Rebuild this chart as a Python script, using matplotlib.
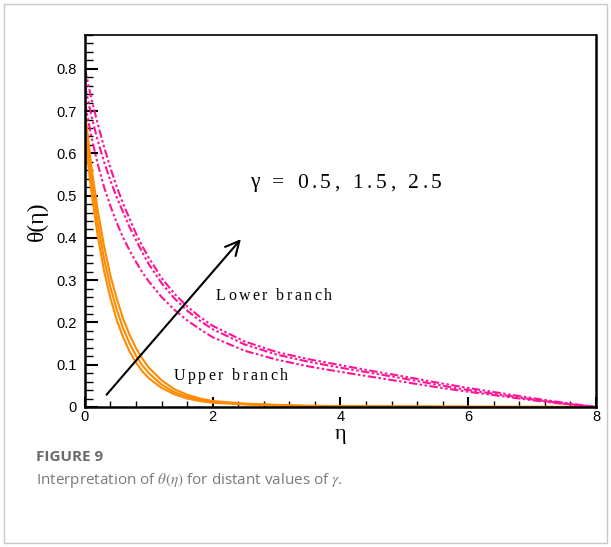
import matplotlib
matplotlib.use("Agg")
import matplotlib.pyplot as plt
from matplotlib.ticker import MultipleLocator, FuncFormatter
from matplotlib.patches import Rectangle

plt.rcParams["mathtext.fontset"] = "stix"

# similarity variable
eta = [0, 0.1, 0.2, 0.3, 0.4, 0.5, 0.6, 0.7, 0.8, 0.9, 1.0, 1.2, 1.4, 1.6,
       1.8, 2.0, 2.5, 3.0, 3.5, 4.0, 4.5, 5.0, 5.5, 6.0, 6.5, 7.0, 7.5, 8.0]

# upper branch temperature profiles, gamma = 0.5, 1.5, 2.5
upper_g05 = [0.70, 0.57, 0.465, 0.38, 0.31, 0.255, 0.208, 0.170, 0.139, 0.114,
             0.093, 0.063, 0.042, 0.029, 0.020, 0.014, 0.008, 0.005, 0.003,
             0.002, 0.0015, 0.001, 0.0008, 0.0005, 0.0003, 0.0002, 0.0001, 0.0]
upper_g15 = [0.67, 0.54, 0.435, 0.35, 0.283, 0.229, 0.185, 0.150, 0.121, 0.098,
             0.080, 0.053, 0.035, 0.024, 0.017, 0.012, 0.007, 0.004, 0.002,
             0.0015, 0.001, 0.0008, 0.0006, 0.0004, 0.0003, 0.0002, 0.0001, 0.0]
upper_g25 = [0.64, 0.51, 0.405, 0.322, 0.257, 0.205, 0.164, 0.131, 0.105, 0.084,
             0.068, 0.045, 0.030, 0.020, 0.014, 0.010, 0.006, 0.003, 0.002,
             0.001, 0.0008, 0.0006, 0.0004, 0.0003, 0.0002, 0.0001, 0.0, 0.0]

# lower branch temperature profiles, gamma = 0.5, 1.5, 2.5
lower_g05 = [0.80, 0.73, 0.67, 0.615, 0.565, 0.52, 0.48, 0.445, 0.41, 0.38,
             0.353, 0.305, 0.268, 0.238, 0.213, 0.192, 0.155, 0.130, 0.113,
             0.099, 0.085, 0.072, 0.058, 0.045, 0.033, 0.021, 0.010, 0.0]
lower_g15 = [0.76, 0.69, 0.63, 0.58, 0.535, 0.495, 0.46, 0.425, 0.395, 0.365,
             0.338, 0.293, 0.257, 0.228, 0.204, 0.184, 0.148, 0.124, 0.107,
             0.093, 0.080, 0.067, 0.053, 0.040, 0.029, 0.018, 0.008, 0.0]
lower_g25 = [0.72, 0.64, 0.575, 0.52, 0.475, 0.435, 0.40, 0.37, 0.343, 0.318,
             0.297, 0.260, 0.230, 0.205, 0.184, 0.165, 0.133, 0.112, 0.096,
             0.083, 0.071, 0.059, 0.047, 0.036, 0.026, 0.016, 0.007, 0.0]

x_ticks = [0, 2, 4, 6, 8]
y_ticks = [0, 0.1, 0.2, 0.3, 0.4, 0.5, 0.6, 0.7, 0.8]

ORANGE = "#FF8A00"
PINK = "#FF1493"

fig = plt.figure(figsize=(6.11, 5.47), dpi=100)
ax = fig.add_axes([0.139, 0.256, 0.8365, 0.680])

for prof in (upper_g05, upper_g15, upper_g25):
    ax.plot(eta, prof, color=ORANGE, lw=1.5, solid_joinstyle="round")
for prof in (lower_g05, lower_g15, lower_g25):
    ax.plot(eta, prof, color=PINK, lw=1.5,
            dashes=[4, 1.2, 1.2, 1.2, 1.2, 1.2])

ax.set_xlim(0, 8)
ax.set_ylim(0, 0.88)
ax.set_xticks(x_ticks)
ax.set_yticks(y_ticks)
ax.xaxis.set_minor_locator(MultipleLocator(0.4))
ax.yaxis.set_minor_locator(MultipleLocator(0.02))
ax.yaxis.set_major_formatter(FuncFormatter(lambda v, p: "0" if abs(v) < 1e-9 else f"{v:.1f}"))
ax.xaxis.set_major_formatter(FuncFormatter(lambda v, p: f"{v:.0f}"))

tick_font = "Liberation Sans"
ax.tick_params(axis="both", which="both", direction="in", top=False, right=False)
ax.tick_params(axis="y", which="major", length=9.5, width=1.5, labelsize=10.5, pad=6)
ax.tick_params(axis="y", which="minor", length=5.5, width=1.0)
ax.tick_params(axis="x", which="major", length=7, width=1.5, labelsize=10.5, pad=2)
ax.tick_params(axis="x", which="minor", length=4.5, width=1.0)
for lab in ax.get_xticklabels() + ax.get_yticklabels():
    lab.set_fontfamily(tick_font)

for side in ("left", "bottom", "right"):
    ax.spines[side].set_linewidth(1.8)
ax.spines["top"].set_linewidth(1.2)

ax.set_xlabel("η", fontfamily="Liberation Serif", fontsize=16, labelpad=1)
ax.set_ylabel("θ(η)", fontfamily="Liberation Serif", fontsize=17, labelpad=6)

fig.canvas.draw()
renderer = fig.canvas.get_renderer()


def tracked_text(x, y, s, size, spacing):
    """Place a string letter by letter (figure pixels) with extra tracking."""
    cur = x
    for ch in s:
        t = fig.text(cur / 611, 1 - y / 547, ch, fontfamily="Liberation Serif",
                     fontsize=size, va="center", ha="left")
        if ch == " ":
            w = size * 0.25 * 100 / 72
        else:
            w = t.get_window_extent(renderer).width
        cur += w + spacing


tracked_text(250, 183, "γ = 0.5, 1.5, 2.5", 15.5, 3.6)
tracked_text(216, 296, "Lower branch", 11.5, 2.4)
tracked_text(174, 376, "Upper branch", 11.5, 2.4)

ax.annotate("", xy=(2.47, 0.402), xytext=(0.31, 0.024),
            arrowprops=dict(arrowstyle="->,head_length=1.0,head_width=0.5",
                            color="black", lw=1.5))

fig.text(36 / 611, 1 - 457 / 547, "FIGURE 9", fontfamily="Open Sans",
         fontweight="bold", fontsize=11, color="#6b6b6b", va="center")
fig.text(36 / 611, 1 - 481 / 547,
         r"Interpretation of $\theta(\eta)$ for distant values of $\gamma$.",
         fontfamily="Open Sans", fontsize=11, color="#7a7a7a", va="center")

fig.add_artist(Rectangle((4 / 611, 4 / 547), 603 / 611, 539 / 547,
                         transform=fig.transFigure, fill=False,
                         edgecolor="#c8c8c8", lw=1.0))

fig.savefig("out.png", dpi=100)
